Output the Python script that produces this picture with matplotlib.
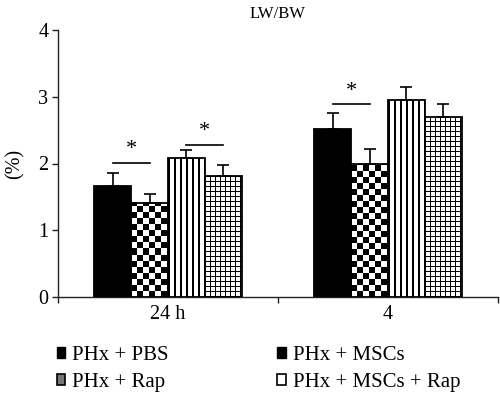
import numpy as np
import matplotlib
matplotlib.use("Agg")
import matplotlib.pyplot as plt
from matplotlib.patches import Patch

plt.rcParams['font.family'] = ['Liberation Serif', 'DejaVu Serif']

# ---- data ----
groups = ["24 h", "4"]
series = ["PHx + PBS", "PHx + Rap", "PHx + MSCs", "PHx + MSCs + Rap"]
values = {
    "PHx + PBS":        [1.66, 2.52],
    "PHx + Rap":        [1.41, 1.99],
    "PHx + MSCs":       [2.08, 2.95],
    "PHx + MSCs + Rap": [1.81, 2.69],
}
errors = {
    "PHx + PBS":        [0.20, 0.24],
    "PHx + Rap":        [0.14, 0.22],
    "PHx + MSCs":       [0.12, 0.19],
    "PHx + MSCs + Rap": [0.17, 0.20],
}
# significance: (group index, series i, series j, line height)
sig = [(0, 0, 1, 2.01), (0, 2, 3, 2.28), (1, 0, 1, 2.89)]
title = "LW/BW"
ylabel = "(%)"
yticks = [0, 1, 2, 3, 4]

# ---- figure ----
W, H = 500, 393
fig = plt.figure(figsize=(W / 100, H / 100), dpi=100)
ax = fig.add_axes([58 / W, 1 - 297 / H, 440 / W, 267 / H])
ax.set_xlim(0, 2)
ax.set_ylim(0, 4)

bw = 0.168
patterns = ["solid", "checker", "vstripe", "grid"]


def pattern(kind, h, w):
    yy, xx = np.indices((h, w))
    if kind == "checker":
        return ((yy // 6 + xx // 6) % 2).astype(float)
    if kind == "vstripe":
        return ((xx % 6) < 2).astype(float)
    if kind == "grid":
        return (((xx % 5) < 1) | ((yy % 5) < 1)).astype(float)
    return np.ones((h, w))


centers = np.arange(len(groups)) + 0.5
xpos = {}
for k, s in enumerate(series):
    xs = centers + (k - 1.5) * bw
    xpos[s] = xs
    fc = "black" if patterns[k] == "solid" else "none"
    bars = ax.bar(xs, values[s], width=bw, facecolor=fc, edgecolor="black",
                  linewidth=1.3, zorder=3)
    if patterns[k] != "solid":
        for r in bars:
            x0, x1 = r.get_x(), r.get_x() + r.get_width()
            y0, y1 = 0, r.get_height()
            p0 = ax.transData.transform((x0, y0))
            p1 = ax.transData.transform((x1, y1))
            wpx = max(1, int(round(p1[0] - p0[0])))
            hpx = max(1, int(round(p1[1] - p0[1])))
            img = pattern(patterns[k], hpx, wpx)
            ax.imshow(img, extent=(x0, x1, y0, y1), origin="lower",
                      cmap="gray_r", vmin=0, vmax=1, interpolation="nearest",
                      aspect="auto", zorder=2)
    ax.errorbar(xs, values[s], yerr=[np.zeros(len(groups)), errors[s]],
                fmt="none", ecolor="black", elinewidth=1.2, capsize=4.5,
                capthick=1.2, zorder=4)

ax.set_xlim(0, 2)
ax.set_ylim(0, 4)

for g, i, j, yv in sig:
    xa = xpos[series[i]][g]
    xb = xpos[series[j]][g]
    ax.plot([xa, xb], [yv, yv], color="black", lw=1.2, zorder=4)
    ax.text((xa + xb) / 2, yv + 0.05, "*", ha="center", va="bottom",
            fontsize=16, zorder=4)

for sp in ["top", "right"]:
    ax.spines[sp].set_visible(False)
for sp in ["left", "bottom"]:
    ax.spines[sp].set_linewidth(1.0)
    ax.spines[sp].set_color("#222222")

ax.set_yticks(yticks)
ax.set_yticklabels([str(t) for t in yticks], fontsize=14.5)
ax.set_xticks([0, 1, 2])
ax.set_xticklabels([])
ax.set_xticks(centers, minor=True)
ax.set_xticklabels(groups, minor=True, fontsize=14.5)
ax.tick_params(axis="x", which="minor", length=0, pad=6)
ax.tick_params(axis="both", which="major", length=4, width=1.0, direction="out",
               color="#222222")
ax.tick_params(axis="y", pad=3)

ax.set_title(title, fontsize=12, pad=9)
ax.set_ylabel(ylabel, fontsize=14.5, labelpad=10)

handles = [
    Patch(facecolor="black", edgecolor="black"),
    Patch(facecolor="#777777", edgecolor="black", linewidth=1.2),
    Patch(facecolor="black", edgecolor="black"),
    Patch(facecolor="white", edgecolor="black", hatch="|", linewidth=1.2),
]
fig.legend(handles, series, loc="upper left", ncol=2,
           bbox_to_anchor=(38 / W, 1 - 327 / H), frameon=False, fontsize=15,
           handlelength=0.4, handleheight=0.4, handletextpad=0.35,
           columnspacing=5.2, labelspacing=0.4)

fig.savefig("out.png", dpi=100)
